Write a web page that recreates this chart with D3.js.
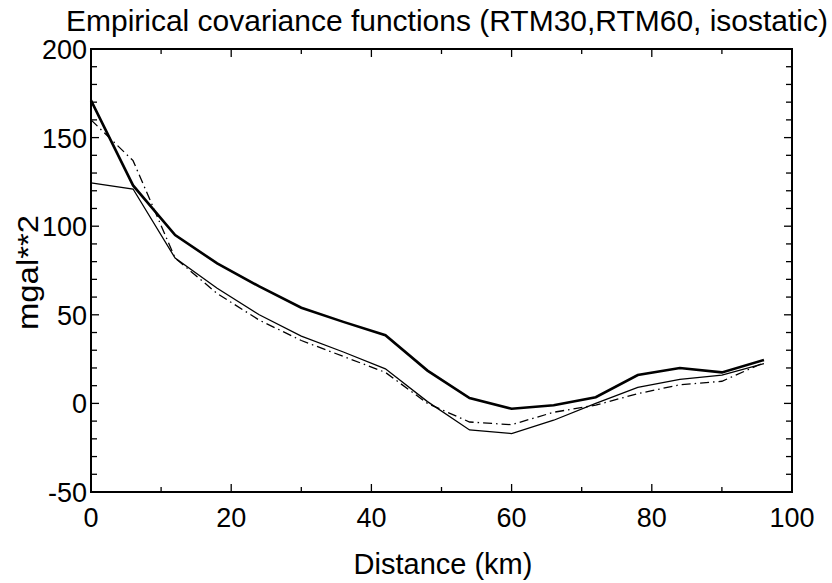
<!DOCTYPE html>
<html>
<head>
<meta charset="utf-8">
<script src="https://cdn.jsdelivr.net/npm/d3@7"></script>
<style>
  body { margin: 0; background: #fff; }
  text { font-family: "Liberation Sans", Arial, sans-serif; fill: #000; }
</style>
</head>
<body>
<div id="chart"></div>
<script>
// distances (km) of the empirical covariance estimates
const distances = [0, 6, 12, 18, 24, 30, 36, 42, 48, 54, 60, 66, 72, 78, 84, 90, 96];

// covariance values (mgal**2)
const covThick = [171, 123, 95, 79, 66, 54, 46, 38.5, 18.5, 3, -3, -1, 3.5, 16, 20, 17.5, 24.5];
const covThin = [124.5, 121, 82, 65, 50, 38, 29, 19.5, 1, -15, -17, -9.5, 0, 9, 13.5, 16, 22.5];
const covDash = [160, 137, 82, 62, 47, 35.5, 26.5, 17.5, 0, -10.5, -12, -5, -1, 5.5, 10.5, 12.5, 23];

const xTicks = [0, 20, 40, 60, 80, 100];
const yTicks = [-50, 0, 50, 100, 150, 200];

const W = 832, H = 583;
const margin = { left: 91, right: 40, top: 49, bottom: 91 };

const $svg = d3.select('#chart').append('svg')
    .attr('width', W)
    .attr('height', H);

const x = d3.scaleLinear().domain([0, 100]).range([margin.left, W - margin.right]);
const y = d3.scaleLinear().domain([-50, 200]).range([H - margin.bottom, margin.top]);

// tick marks, all pointing inward, on all four sides
const xMinor = d3.range(0, 101, 10);
const yMinor = d3.range(-50, 201, 10);

const $ticks = $svg.append('g').attr('stroke', '#000').attr('stroke-width', 1.3);

xMinor.forEach(function(v){
    const len = v % 20 === 0 ? 8 : 5;
    $ticks.append('line').attr('x1', x(v)).attr('x2', x(v))
        .attr('y1', y(-50)).attr('y2', y(-50) - len);
    $ticks.append('line').attr('x1', x(v)).attr('x2', x(v))
        .attr('y1', y(200)).attr('y2', y(200) + len);
});

yMinor.forEach(function(v){
    const len = v % 50 === 0 ? 8 : 6;
    $ticks.append('line').attr('y1', y(v)).attr('y2', y(v))
        .attr('x1', x(0)).attr('x2', x(0) + len);
    $ticks.append('line').attr('y1', y(v)).attr('y2', y(v))
        .attr('x1', x(100)).attr('x2', x(100) - len);
});

// frame
$svg.append('rect')
    .attr('x', x(0)).attr('y', y(200))
    .attr('width', x(100) - x(0)).attr('height', y(-50) - y(200))
    .attr('fill', 'none').attr('stroke', '#000').attr('stroke-width', 2);

// tick labels
$svg.append('g').selectAll('text')
    .data(xTicks)
    .enter()
    .append('text')
    .attr('x', d => x(d))
    .attr('y', y(-50) + 35)
    .attr('text-anchor', 'middle')
    .style('font-size', '27px')
    .text(d => d);

$svg.append('g').selectAll('text')
    .data(yTicks)
    .enter()
    .append('text')
    .attr('x', x(0) - 4)
    .attr('y', d => y(d) + 10)
    .attr('text-anchor', 'end')
    .style('font-size', '27px')
    .text(d => d);

// axis titles
$svg.append('text')
    .attr('x', 443)
    .attr('y', 574)
    .attr('text-anchor', 'middle')
    .style('font-size', '29px')
    .text('Distance (km)');

$svg.append('text')
    .attr('transform', 'translate(38,330) rotate(-90)')
    .attr('textLength', 115)
    .attr('lengthAdjust', 'spacingAndGlyphs')
    .style('font-size', '29px')
    .text('mgal**2');

$svg.append('text')
    .attr('x', 66)
    .attr('y', 31)
    .attr('textLength', 762)
    .attr('lengthAdjust', 'spacingAndGlyphs')
    .style('font-size', '30px')
    .text('Empirical covariance functions (RTM30,RTM60, isostatic)');

// curves
const line = d3.line()
    .x(d => x(d[0]))
    .y(d => y(d[1]));

const series = [
    { values: covThin, width: 1.3, dash: null },
    { values: covDash, width: 1.3, dash: '9,4,1.5,4' },
    { values: covThick, width: 2.6, dash: null }
];

series.forEach(function(s){
    $svg.append('path')
        .datum(d3.zip(distances, s.values))
        .attr('d', line)
        .attr('fill', 'none')
        .attr('stroke', '#000')
        .attr('stroke-width', s.width)
        .attr('stroke-dasharray', s.dash);
});
</script>
</body>
</html>
